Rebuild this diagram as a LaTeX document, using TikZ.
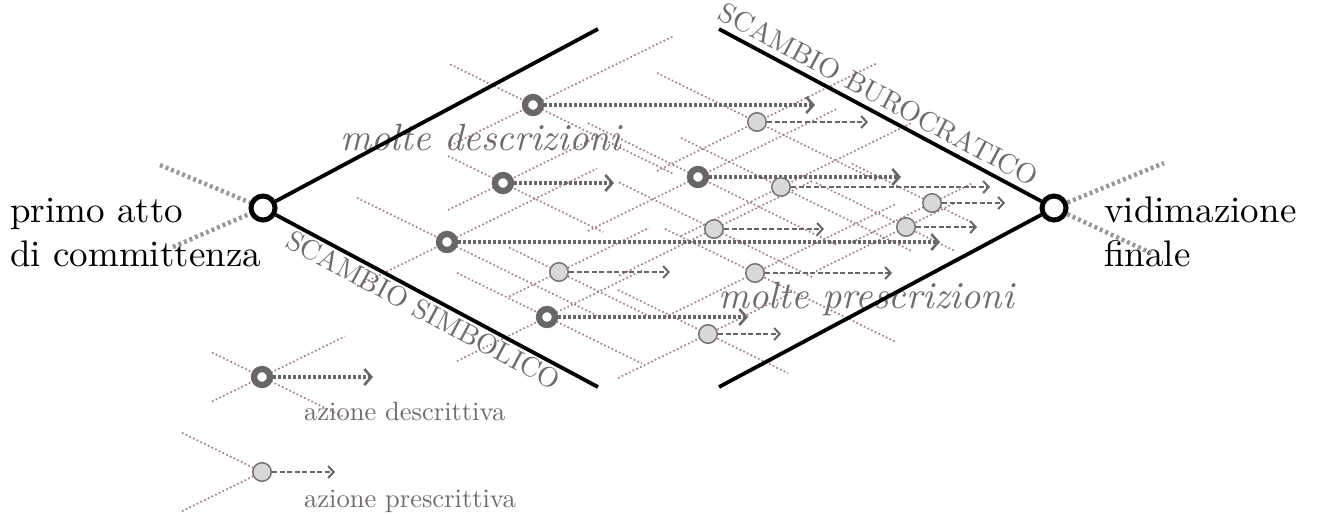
\documentclass[tikz,border=0pt]{standalone}
\usepackage{fontspec}
\setmainfont{lmroman10-regular.otf}[ItalicFont=lmroman10-italic.otf]
\usepackage{tikz}
\usetikzlibrary{positioning,arrows.meta,backgrounds}

\definecolor{ringgray}{RGB}{104,102,102}
\definecolor{rimgray}{RGB}{120,116,116}
\definecolor{fillgray}{RGB}{216,216,216}
\definecolor{webrose}{RGB}{162,130,130}
\definecolor{endgray}{RGB}{155,151,151}
\definecolor{textgray}{RGB}{112,106,106}

\tikzset{
  terminal/.style={circle, draw=black, line width=5pt, fill=white, minimum size=24pt, inner sep=0pt},
  desc/.style={circle, draw=ringgray, line width=6.3pt, fill=white, minimum size=16pt, inner sep=0pt},
  presc/.style={circle, draw=rimgray, fill=fillgray, line width=1.5pt, minimum size=18.5pt, inner sep=0pt},
  web/.style={draw=webrose, line width=1.7pt, dash pattern=on 1.7pt off 2.4pt},
  descarrow/.style={draw=ringgray, line width=3.4pt, dash pattern=on 2.8pt off 2.2pt,
    -{Straight Barb[length=7pt, width=16pt, line width=2.6pt]}},
  prescarrow/.style={draw=ringgray, line width=2.2pt, dash pattern=on 5pt off 2.5pt,
    -{Straight Barb[length=5.5pt, width=12pt, line width=2pt]}},
  endline/.style={draw=endgray, line width=4.5pt, dash pattern=on 3pt off 3pt},
  main/.style={line width=3.8pt},
  title/.style={font=\fontsize{37}{44}\selectfont, align=left, inner sep=0pt},
  exchange/.style={font=\fontsize{28}{30}\selectfont, text=textgray},
  many/.style={font=\fontsize{38}{44}\selectfont\itshape, text=textgray, inner sep=0pt},
  legendtext/.style={font=\fontsize{26.5}{30}\selectfont, text=textgray, inner sep=0pt}
}

\begin{document}
\begin{tikzpicture}[x=1pt, y=-1pt]
  \useasboundingbox (0,0) rectangle (1324,515);

  \node (start) [terminal] at (263,208) {};
  \node (finish) [terminal] at (1054,208) {};
  \node (committenza) [title, anchor=base west] at (10,266) {primo atto\\di committenza};
  \node (vidimazione) [title, anchor=base west] at (1104,266) {vidimazione\\finale};

  \node (d1) [desc] at (533,105) {};
  \node (d2) [desc] at (503,183) {};
  \node (d3) [desc] at (447,242) {};
  \node (d4) [desc] at (547,317) {};
  \node (d5) [desc] at (698,177) {};
  \node (p1) [presc] at (757,122) {};
  \node (p2) [presc] at (781,187) {};
  \node (p3) [presc] at (932,203) {};
  \node (p4) [presc] at (714,229) {};
  \node (p5) [presc] at (906,227) {};
  \node (p6) [presc] at (559,272) {};
  \node (p7) [presc] at (755,273) {};
  \node (p8) [presc] at (708,334) {};
  \node (ld) [desc] at (262,377) {};
  \node (lp) [presc] at (262,472) {};

  \coordinate (d1e) at (815,105);
  \coordinate (d2e) at (614,183);
  \coordinate (d3e) at (940,242);
  \coordinate (d4e) at (748,317);
  \coordinate (d5e) at (901,177);
  \coordinate (p1e) at (868,122);
  \coordinate (p2e) at (990,187);
  \coordinate (p3e) at (1005,203);
  \coordinate (p4e) at (824,229);
  \coordinate (p5e) at (977,227);
  \coordinate (p6e) at (670,272);
  \coordinate (p7e) at (892,273);
  \coordinate (p8e) at (781,334);
  \coordinate (lde) at (373,377);
  \coordinate (lpe) at (335,472);

  \begin{scope}[on background layer]
    \foreach \n/\l/\r in {d1/83/140, d2/55/100, d3/90/150, d4/90/95, d5/110/140,
        p1/100/120, p2/100/130, p3/80/40, p4/95/100, p5/90/50, p6/50/90,
        p7/90/140, p8/90/80, ld/50/83, lp/80/0}{
      \draw[web] (\n.center) ++(-\l,-0.49*\l) -- (\n.center) -- ++(\r,0.49*\r);
      \draw[web] (\n.center) ++(-\l,0.49*\l) -- (\n.center) -- ++(\r,-0.49*\r);
    }
    \draw[descarrow] (d1) -- (d1e);
    \draw[descarrow] (d2) -- (d2e);
    \draw[descarrow] (d3) -- (d3e);
    \draw[descarrow] (d4) -- (d4e);
    \draw[descarrow] (d5) -- (d5e);
    \draw[descarrow] (ld) -- (lde);
    \draw[prescarrow] (p1) -- (p1e);
    \draw[prescarrow] (p2) -- (p2e);
    \draw[prescarrow] (p3) -- (p3e);
    \draw[prescarrow] (p4) -- (p4e);
    \draw[prescarrow] (p5) -- (p5e);
    \draw[prescarrow] (p6) -- (p6e);
    \draw[prescarrow] (p7) -- (p7e);
    \draw[prescarrow] (p8) -- (p8e);
    \draw[prescarrow] (lp) -- (lpe);
  \end{scope}

  \coordinate (inA) at (160,165);
  \coordinate (inB) at (173,247);
  \coordinate (outA) at (1164,163);
  \coordinate (outB) at (1151,253);
  \draw[endline] (inA) -- (start);
  \draw[endline] (inB) -- (start);
  \draw[endline] (finish) -- (outA);
  \draw[endline] (finish) -- (outB);

  \node (descrizioni) [many, anchor=base] at (481,150) {molte descrizioni};
  \node (prescrizioni) [many, anchor=base] at (866,308) {molte prescrizioni};

  \coordinate (ul) at (598,29);
  \coordinate (ll) at (598,387);
  \coordinate (ur) at (719,29);
  \coordinate (lr) at (719,387);
  \draw[main] (start) -- (ul);
  \draw[main] (start) -- node[exchange, sloped, below, pos=0.48, inner sep=2pt] {SCAMBIO SIMBOLICO} (ll);
  \draw[main] (ur) -- node[exchange, sloped, above, pos=0.47, inner sep=5.5pt] {SCAMBIO BUROCRATICO} (finish);
  \draw[main] (lr) -- (finish);

  \node (descrittiva) [legendtext, anchor=base west] at (304,420) {azione descrittiva};
  \node (prescrittiva) [legendtext, anchor=base west] at (304,507) {azione prescrittiva};
\end{tikzpicture}
\end{document}
